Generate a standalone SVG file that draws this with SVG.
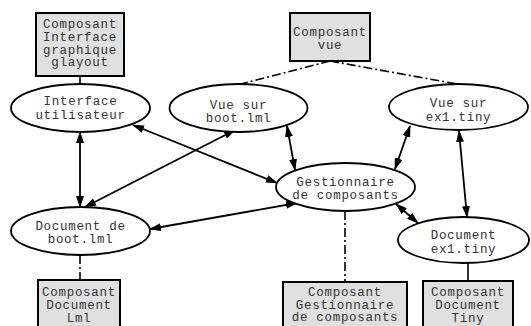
<svg xmlns="http://www.w3.org/2000/svg" width="531" height="326" viewBox="0 0 531 326">
<style>
.box{fill:#e0e0e0;stroke:#000;stroke-width:2}
.ell{fill:#fff;stroke:#000;stroke-width:1.8}
text{font-family:"Liberation Mono","DejaVu Sans Mono",monospace;font-size:12.5px;letter-spacing:0.7px;fill:#333;text-anchor:middle}
.arr{stroke:#000;stroke-width:1.8;fill:none;marker-start:url(#ah);marker-end:url(#ah)}
.dd{stroke:#000;stroke-width:1.6;fill:none;stroke-dasharray:9,3,2,3}
.sl{stroke:#000;stroke-width:1.6;fill:none}
</style>
<defs>
<marker id="ah" viewBox="0 0 12 8" refX="11" refY="4" markerWidth="12" markerHeight="8" markerUnits="userSpaceOnUse" orient="auto-start-reverse">
<path d="M0,0 L12,4 L0,8 z" fill="#000"/>
</marker>
</defs>
<rect width="531" height="326" fill="#fff"/>
<g id="connectors">
<line class="sl" x1="80" y1="76" x2="80" y2="84"/>
<path class="dd" d="M330,61 L241,84"/>
<path class="dd" d="M330,61 L457,84"/>
<path class="dd" d="M345,211 L345,282"/>
<path class="dd" d="M80,255 L80,280"/>
<line class="sl" x1="468" y1="263" x2="468" y2="281"/>
<line class="arr" x1="80" y1="132" x2="80" y2="207"/>
<line class="arr" x1="133" y1="125" x2="277" y2="183"/>
<line class="arr" x1="235" y1="130" x2="85" y2="207"/>
<line class="arr" x1="287" y1="126" x2="295" y2="170"/>
<line class="arr" x1="150" y1="229" x2="297" y2="203"/>
<line class="arr" x1="410" y1="126" x2="395" y2="169"/>
<line class="arr" x1="459" y1="131" x2="467" y2="217"/>
<line class="arr" x1="396" y1="204" x2="418" y2="223"/>
</g>
<g id="n_glayout">
<rect class="box" x="36" y="13" width="88" height="63"/>
<text x="80" y="28">Composant</text>
<text x="80" y="41">Interface</text>
<text x="80" y="53.5">graphique</text>
<text x="80" y="66">glayout</text>
</g>
<g id="n_vue">
<rect class="box" x="290" y="13" width="80" height="48"/>
<text x="330" y="36">Composant</text>
<text x="330" y="49">vue</text>
</g>
<g id="n_interface">
<ellipse class="ell" cx="80.5" cy="108" rx="69.5" ry="24"/>
<text x="80.5" y="105">Interface</text>
<text x="80.5" y="119">utilisateur</text>
</g>
<g id="n_vueboot">
<ellipse class="ell" cx="238.5" cy="108" rx="69" ry="24"/>
<text x="238.5" y="109">Vue sur</text>
<text x="238.5" y="122">boot.lml</text>
</g>
<g id="n_vueex1">
<ellipse class="ell" cx="458.5" cy="107" rx="69.5" ry="23"/>
<text x="458.5" y="107">Vue sur</text>
<text x="458.5" y="121">ex1.tiny</text>
</g>
<g id="n_gest">
<ellipse class="ell" cx="345.5" cy="187" rx="69.5" ry="24"/>
<text x="345.5" y="186">Gestionnaire</text>
<text x="345.5" y="199">de composants</text>
</g>
<g id="n_docboot">
<ellipse class="ell" cx="80.5" cy="231" rx="69.5" ry="24"/>
<text x="80.5" y="230">Document de</text>
<text x="80.5" y="243">boot.lml</text>
</g>
<g id="n_docex1">
<ellipse class="ell" cx="463.5" cy="240" rx="65.5" ry="23"/>
<text x="463.5" y="239">Document</text>
<text x="463.5" y="253">ex1.tiny</text>
</g>
<g id="n_lml">
<rect class="box" x="38" y="280" width="82" height="60"/>
<text x="79" y="296">Composant</text>
<text x="79" y="309">Document</text>
<text x="79" y="322">Lml</text>
</g>
<g id="n_gestbox">
<rect class="box" x="283" y="282" width="124" height="60"/>
<text x="345" y="296">Composant</text>
<text x="345" y="308.5">Gestionnaire</text>
<text x="345" y="321">de composants</text>
</g>
<g id="n_tiny">
<rect class="box" x="423" y="281" width="90" height="60"/>
<text x="468" y="296">Composant</text>
<text x="468" y="309">Document</text>
<text x="468" y="322">Tiny</text>
</g>
</svg>
